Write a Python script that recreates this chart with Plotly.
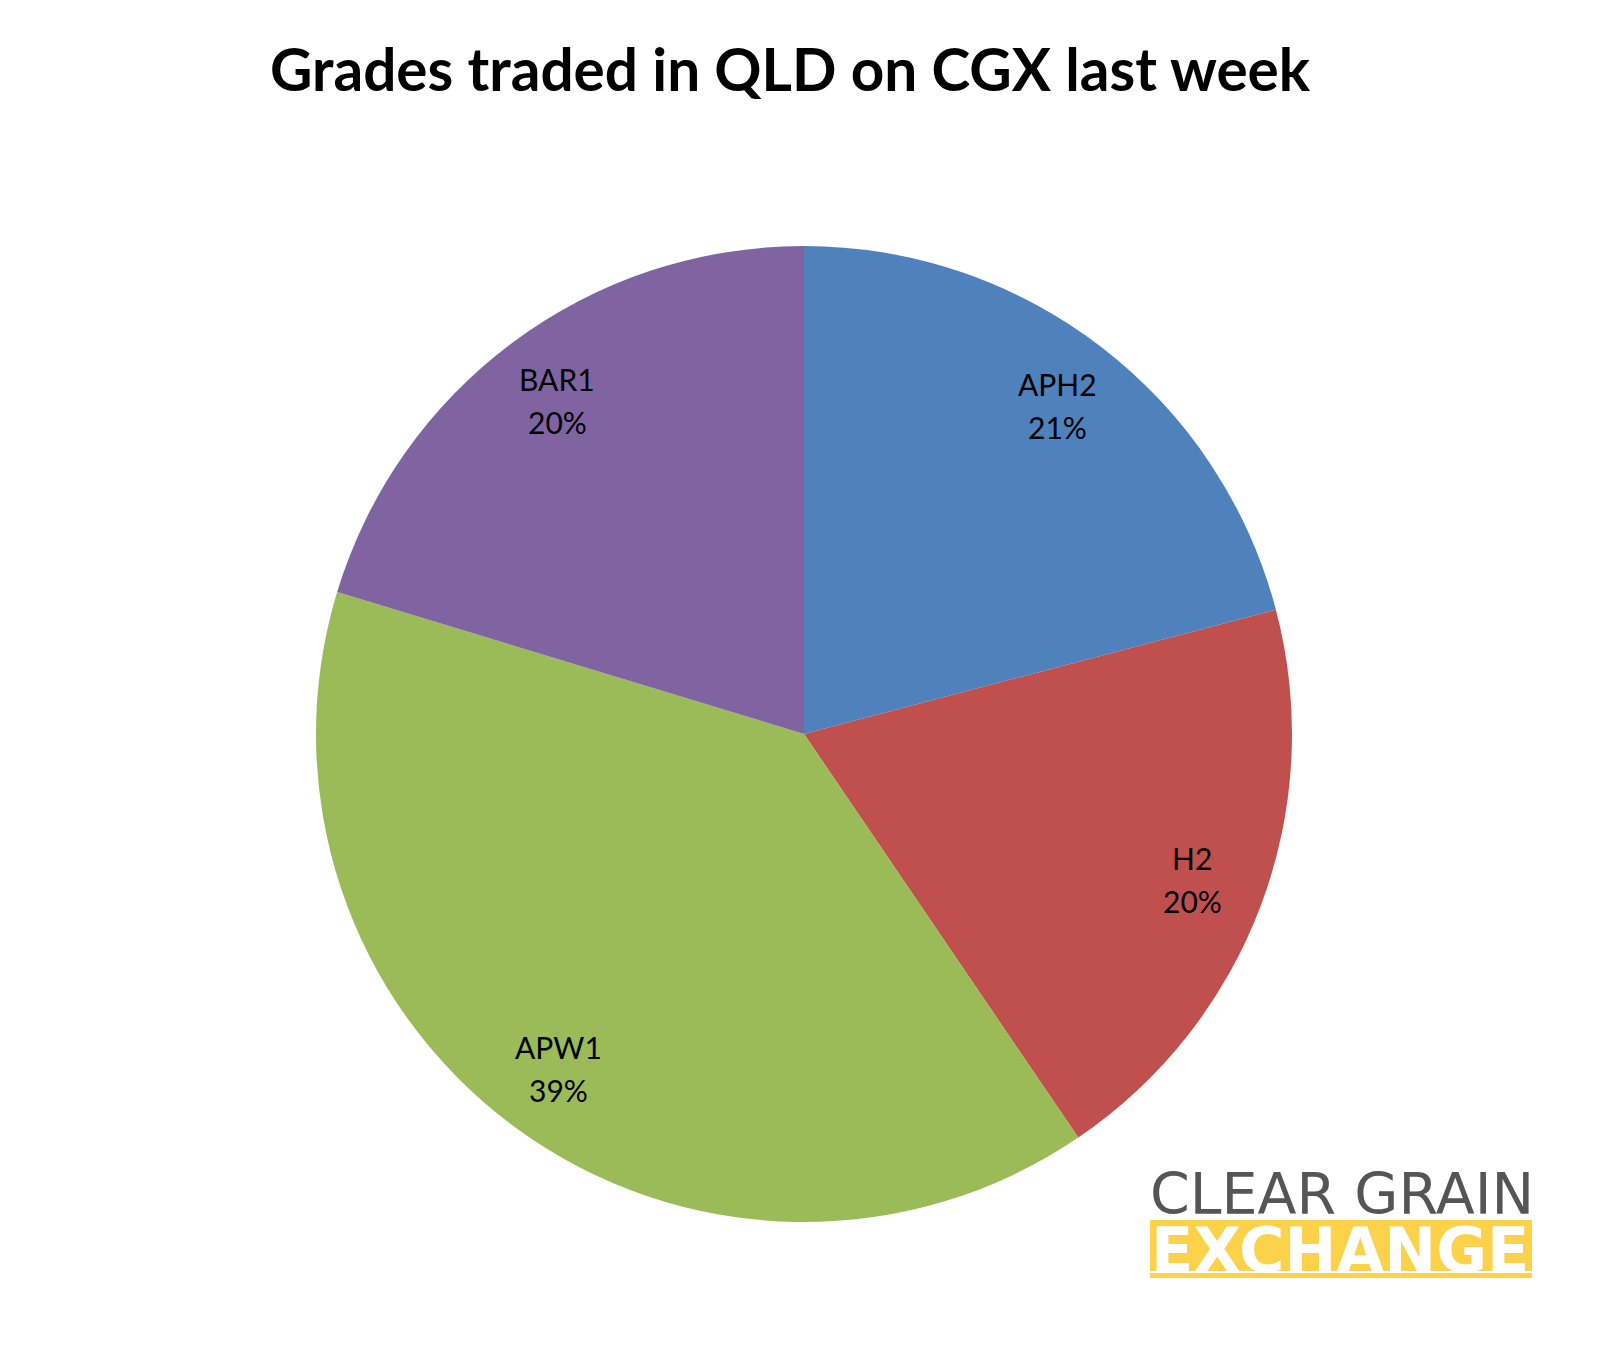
import math
import plotly.graph_objects as go

labels = ["APH2", "H2", "APW1", "BAR1"]
values = [20.9, 19.6, 39.2, 20.3]
colors = ["#4F81BD", "#C0504D", "#9BBB59", "#8064A2"]
title_text = "Grades traded in QLD on CGX last week"

W, H = 1608, 1351
OFF = 8  # page body margin offset
cx, cy, R = 804 - OFF, 734 - OFF, 488  # pie centre / radius in px


def px_x(x):
    return (x - OFF) / W


def px_y(y):
    return 1 - (y - OFF) / H


fig = go.Figure(go.Pie(
    labels=labels, values=values, sort=False, direction="clockwise", rotation=0,
    marker=dict(colors=colors, line=dict(width=0)),
    textinfo="none", hoverinfo="label+percent", showlegend=False,
    domain=dict(x=[(cx - R) / W, (cx + R) / W], y=[1 - (cy + R) / H, 1 - (cy - R) / H]),
))

# data labels placed along each slice's mid-angle (two lines, Excel-like spacing)
total = sum(values)
cum = 0.0
LINE = 43
for lab, v in zip(labels, values):
    mid = (cum + v / 2) / total * 2 * math.pi
    cum += v
    r = 0.85 * R
    px = cx + r * math.sin(mid)
    py = cy - r * math.cos(mid)
    pct = round(v / total * 100)
    for txt, dy in ((lab, -LINE / 2), (f"{pct}%", LINE / 2)):
        fig.add_annotation(x=px / W, y=1 - (py + dy) / H, xref="paper", yref="paper",
                           xanchor="center", yanchor="middle",
                           text=txt, showarrow=False,
                           font=dict(family="Lato", size=30, color="#000000"))

fig.add_annotation(x=px_x(790), y=px_y(68), xref="paper", yref="paper",
                   xanchor="center", yanchor="middle",
                   text=f"<b>{title_text}</b>", showarrow=False,
                   font=dict(family="Lato", size=58.5, color="#000000"))

# logo
fig.add_shape(type="rect", xref="paper", yref="paper",
              x0=px_x(1150), x1=px_x(1532), y0=px_y(1278), y1=px_y(1220),
              fillcolor="#FBD249", line=dict(width=0), layer="above")
fig.add_shape(type="rect", xref="paper", yref="paper",
              x0=px_x(1150), x1=px_x(1532), y0=px_y(1273), y1=px_y(1271),
              fillcolor="#FFFFFF", line=dict(width=0), layer="above")
fig.add_annotation(x=px_x(1342), y=px_y(1194), xref="paper", yref="paper",
                   xanchor="center", yanchor="middle", borderpad=0,
                   text="CLEAR GRAIN", showarrow=False,
                   font=dict(family="DejaVu Sans", size=57, color="#555555"))
fig.add_annotation(x=px_x(1340), y=px_y(1250), xref="paper", yref="paper",
                   xanchor="center", yanchor="middle", borderpad=0,
                   text="<b>EXCHANGE</b>", showarrow=False,
                   font=dict(family="DejaVu Sans", size=62, color="#FFFFFF"))

fig.update_layout(width=W, height=H, margin=dict(l=0, r=0, t=0, b=0),
                  paper_bgcolor="#FFFFFF", plot_bgcolor="#FFFFFF")
fig.write_html("out.html")
